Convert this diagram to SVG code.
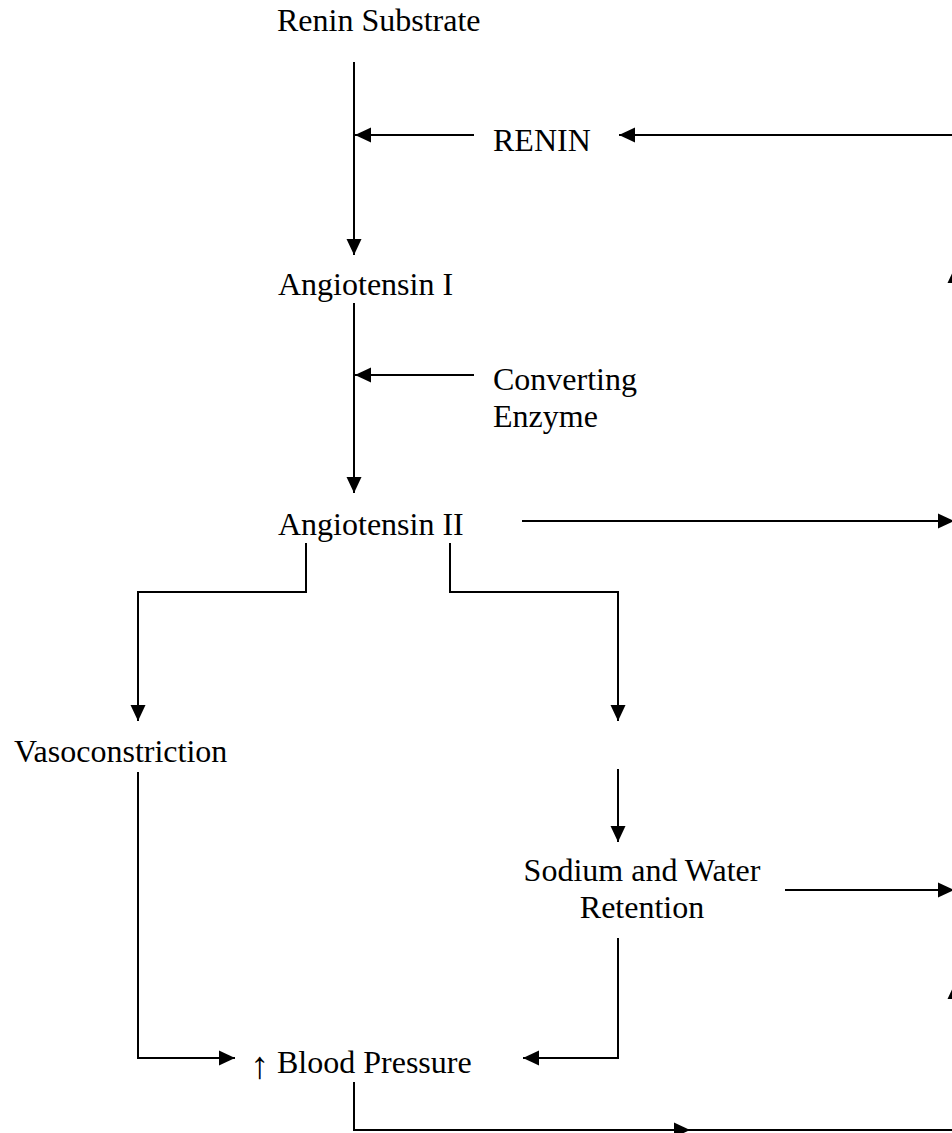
<svg xmlns="http://www.w3.org/2000/svg" width="952" height="1133" viewBox="0 0 952 1133">
<style>
  .t { font-family: "Liberation Serif", "Times New Roman", serif; font-size: 32px; fill: #000; }
  .c { fill: none; stroke: #000; stroke-width: 2; }
</style>
<defs>
  <marker id="ah" markerUnits="userSpaceOnUse" markerWidth="16" markerHeight="16" viewBox="0 0 16 16" refX="16" refY="8" orient="auto">
    <path d="M0,0.5 L16,8 L0,15.5 z" fill="#000"/>
  </marker>
</defs>
<rect width="952" height="1133" fill="#fff"/>

<g id="renin-substrate"><text class="t" x="277" y="31">Renin Substrate</text></g>
<g id="renin"><text class="t" x="493" y="151">RENIN</text></g>
<g id="angiotensin-1"><text class="t" x="278" y="295">Angiotensin I</text></g>
<g id="converting-enzyme"><text class="t" x="493" y="390">Converting</text><text class="t" x="493" y="427">Enzyme</text></g>
<g id="angiotensin-2"><text class="t" x="278" y="535">Angiotensin II</text></g>
<g id="vasoconstriction"><text class="t" x="14" y="762">Vasoconstriction</text></g>
<g id="sodium-water"><text class="t" x="642" y="881" text-anchor="middle">Sodium and Water</text><text class="t" x="642" y="918" text-anchor="middle">Retention</text></g>
<g id="blood-pressure"><text class="t" x="250" y="1073"><tspan font-size="38" dy="5">↑</tspan><tspan x="277" dy="-5">Blood Pressure</tspan></text></g>

<g id="connectors">
  <path class="c" d="M354,62 V255" marker-end="url(#ah)"/>
  <path class="c" d="M474,135 H355" marker-end="url(#ah)"/>
  <path class="c" d="M960,135 H619" marker-end="url(#ah)"/>
  <path class="c" d="M955,420 V267" marker-end="url(#ah)"/>
  <path class="c" d="M354,303 V493" marker-end="url(#ah)"/>
  <path class="c" d="M474,375 H355" marker-end="url(#ah)"/>
  <path class="c" d="M522,521 H954" marker-end="url(#ah)"/>
  <path class="c" d="M306,543 V592 H138 V721" marker-end="url(#ah)"/>
  <path class="c" d="M450,543 V592 H618 V721" marker-end="url(#ah)"/>
  <path class="c" d="M618,769 V842" marker-end="url(#ah)"/>
  <path class="c" d="M785,890 H954" marker-end="url(#ah)"/>
  <path class="c" d="M955,1100 V983" marker-end="url(#ah)"/>
  <path class="c" d="M138,772 V1058 H235" marker-end="url(#ah)"/>
  <path class="c" d="M618,938 V1058 H523" marker-end="url(#ah)"/>
  <path class="c" d="M354,1082 V1130 H690" marker-end="url(#ah)"/>
  <path class="c" d="M690,1130 H960"/>
</g>
</svg>
